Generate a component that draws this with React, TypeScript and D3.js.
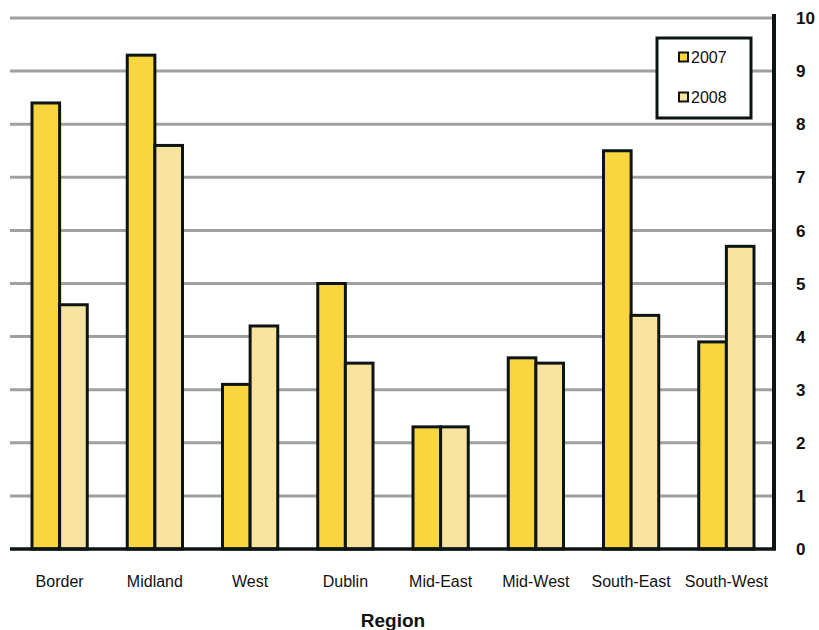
import React from "react";
import * as d3 from "d3";

const categories = ["Border", "Midland", "West", "Dublin", "Mid-East", "Mid-West", "South-East", "South-West"];
const series2007 = [8.4, 9.3, 3.1, 5.0, 2.3, 3.6, 7.5, 3.9];
const series2008 = [4.6, 7.6, 4.2, 3.5, 2.3, 3.5, 4.4, 5.7];
const seriesNames = ["2007", "2008"];
const yTicks = [0, 1, 2, 3, 4, 5, 6, 7, 8, 9, 10];
const xTitle = "Region";

const COLORS = ["#F9D63F", "#F8E4A0"];
const STROKE = "#0d1512";

export default function App() {
  const W = 819, H = 630;
  const left = 10, right = 774, top = 18, bottom = 549;
  const x = d3.scaleBand<string>().domain(categories).range([12, 774]).paddingInner(0.42).paddingOuter(0.21);
  const xs = d3.scaleBand<string>().domain(seriesNames).range([0, x.bandwidth()]);
  const y = d3.scaleLinear().domain([0, 10]).range([bottom, top]);
  const data = [series2007, series2008];

  return (
    <svg width={W} height={H} style={{ position: "absolute", left: 0, top: 0 }} fontFamily="Arial, 'Liberation Sans', sans-serif">
      <rect width={W} height={H} fill="#fff" />
      {yTicks.filter(t => t > 0).map(t => (
        <line key={t} x1={left} x2={right} y1={y(t)} y2={y(t)} stroke="#a0a0a0" strokeWidth={3} />
      ))}
      {categories.map((c, i) =>
        data.map((s, j) => (
          <rect key={c + j}
            x={(x(c) as number) + (xs(seriesNames[j]) as number)}
            y={y(s[i])}
            width={xs.bandwidth()}
            height={bottom - y(s[i])}
            fill={COLORS[j]} stroke={STROKE} strokeWidth={3} />
        ))
      )}
      <line x1={left} x2={right + 2} y1={bottom} y2={bottom} stroke={STROKE} strokeWidth={3.5} />
      <line x1={right} x2={right} y1={top - 4} y2={bottom + 1} stroke={STROKE} strokeWidth={4} />
      {yTicks.map(t => (
        <text key={t} x={796} y={y(t)} dy="0.36em" fontSize={17} fontWeight="bold" fill="#111">{t}</text>
      ))}
      {categories.map(c => (
        <text key={c} x={(x(c) as number) + x.bandwidth() / 2} y={587} textAnchor="middle" fontSize={16} fill="#111">{c}</text>
      ))}
      <text x={393} y={627} textAnchor="middle" fontSize={19} fontWeight="bold" fill="#111">{xTitle}</text>
      <g>
        <rect x={657} y={38} width={94} height={80} fill="#fff" stroke={STROKE} strokeWidth={3} />
        {seriesNames.map((n, j) => (
          <g key={n} transform={`translate(0, ${57 + j * 40})`}>
            <rect x={679} y={-4.5} width={9} height={9} fill={COLORS[j]} stroke={STROKE} strokeWidth={2} />
            <text x={691} y={0} dy="0.36em" fontSize={16} fill="#111">{n}</text>
          </g>
        ))}
      </g>
    </svg>
  );
}
